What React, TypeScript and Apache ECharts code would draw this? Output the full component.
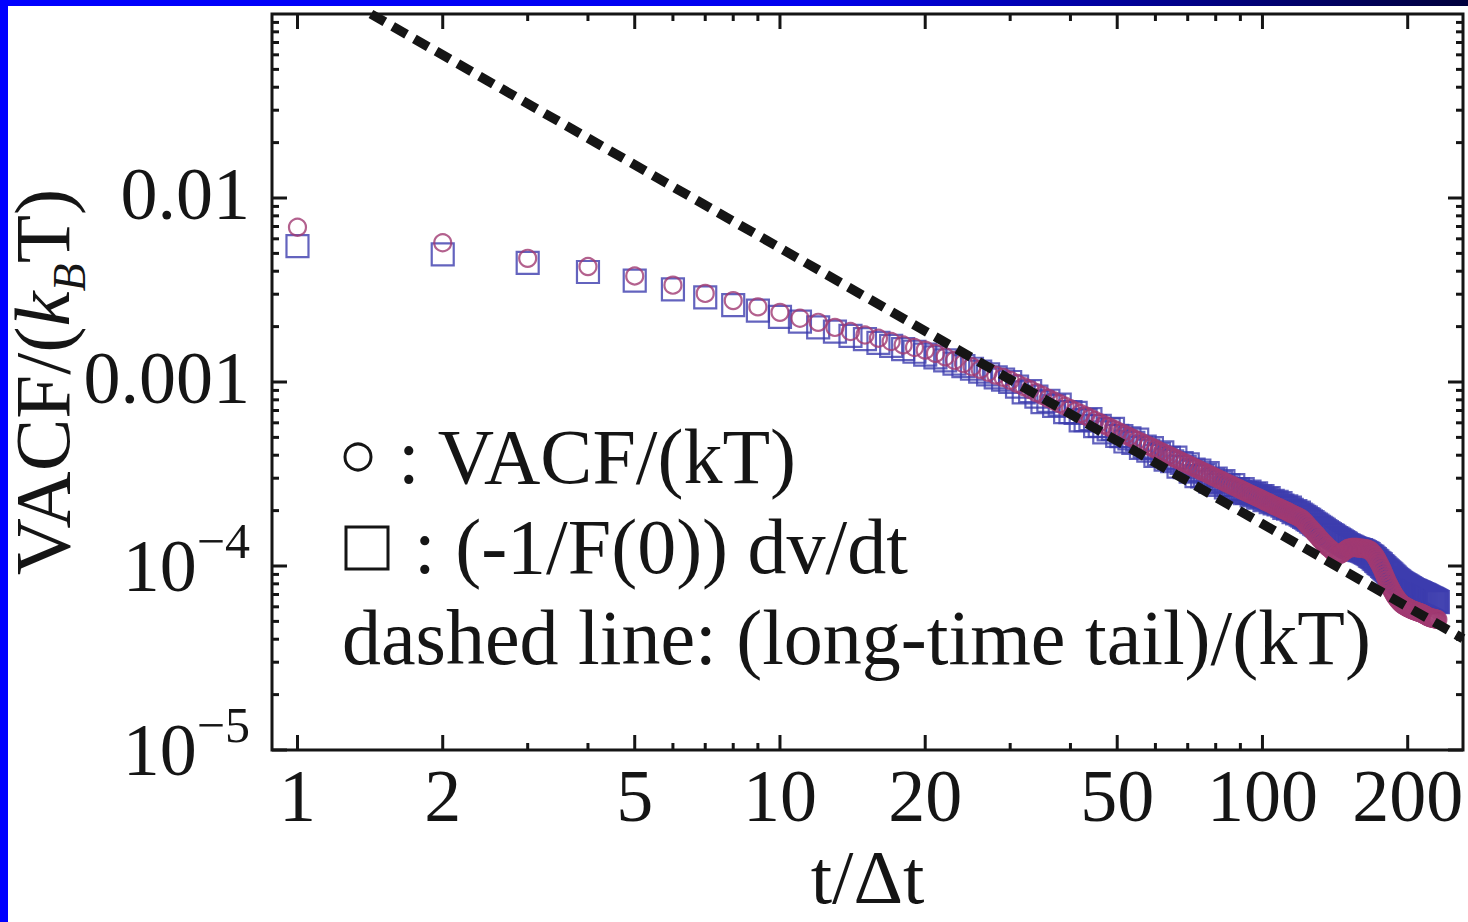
import React, { useEffect, useRef } from "react";
import * as echarts from "echarts";

// time steps t/Δt
const T_STEPS = [
  1, 2, 3, 4, 5, 6, 7, 8, 9, 10, 11, 12, 13, 14, 15, 16, 17, 18, 19, 20,
  21, 22, 23, 24, 25, 26, 27, 28, 29, 30, 31, 32, 33, 34, 35, 36, 37, 38, 39, 40,
  41, 42, 43, 44, 45, 46, 47, 48, 49, 50, 51, 52, 53, 54, 55, 56, 57, 58, 59, 60,
  61, 62, 63, 64, 65, 66, 67, 68, 69, 70, 71, 72, 73, 74, 75, 76, 77, 78, 79, 80,
  81, 82, 83, 84, 85, 86, 87, 88, 89, 90, 91, 92, 93, 94, 95, 96, 97, 98, 99, 100,
  101, 102, 103, 104, 105, 106, 107, 108, 109, 110, 111, 112, 113, 114, 115, 116, 117, 118, 119, 120,
  121, 122, 123, 124, 125, 126, 127, 128, 129, 130, 131, 132, 133, 134, 135, 136, 137, 138, 139, 140,
  141, 142, 143, 144, 145, 146, 147, 148, 149, 150, 151, 152, 153, 154, 155, 156, 157, 158, 159, 160,
  161, 162, 163, 164, 165, 166, 167, 168, 169, 170, 171, 172, 173, 174, 175, 176, 177, 178, 179, 180,
  181, 182, 183, 184, 185, 186, 187, 188, 189, 190, 191, 192, 193, 194, 195, 196, 197, 198, 199, 200,
  201, 202, 203, 204, 205, 206, 207, 208, 209, 210, 211, 212, 213, 214, 215, 216, 217, 218, 219, 220,
  221, 222, 223, 224, 225, 226, 227, 228, 229, 230, 231,
];

// circles: VACF/(kT)
const VACF = [
  6.94e-3, 5.71e-3, 4.70e-3, 4.24e-3, 3.77e-3, 3.36e-3, 3.03e-3, 2.77e-3, 2.56e-3, 2.39e-3,
  2.22e-3, 2.11e-3, 1.98e-3, 1.88e-3, 1.80e-3, 1.73e-3, 1.66e-3, 1.59e-3, 1.54e-3, 1.49e-3,
  1.43e-3, 1.37e-3, 1.31e-3, 1.26e-3, 1.21e-3, 1.17e-3, 1.13e-3, 1.09e-3, 1.06e-3, 1.02e-3,
  9.82e-4, 9.44e-4, 9.09e-4, 8.76e-4, 8.45e-4, 8.15e-4, 7.88e-4, 7.62e-4, 7.38e-4, 7.15e-4,
  6.94e-4, 6.73e-4, 6.54e-4, 6.35e-4, 6.18e-4, 6.01e-4, 5.85e-4, 5.70e-4, 5.56e-4, 5.42e-4,
  5.29e-4, 5.16e-4, 5.04e-4, 4.92e-4, 4.81e-4, 4.71e-4, 4.60e-4, 4.51e-4, 4.41e-4, 4.32e-4,
  4.23e-4, 4.15e-4, 4.07e-4, 3.99e-4, 3.91e-4, 3.84e-4, 3.77e-4, 3.70e-4, 3.63e-4, 3.57e-4,
  3.50e-4, 3.44e-4, 3.39e-4, 3.33e-4, 3.27e-4, 3.22e-4, 3.17e-4, 3.12e-4, 3.07e-4, 3.02e-4,
  2.97e-4, 2.93e-4, 2.89e-4, 2.84e-4, 2.80e-4, 2.76e-4, 2.72e-4, 2.68e-4, 2.65e-4, 2.61e-4,
  2.57e-4, 2.54e-4, 2.50e-4, 2.47e-4, 2.44e-4, 2.41e-4, 2.38e-4, 2.35e-4, 2.32e-4, 2.29e-4,
  2.26e-4, 2.23e-4, 2.21e-4, 2.18e-4, 2.15e-4, 2.13e-4, 2.10e-4, 2.08e-4, 2.06e-4, 2.03e-4,
  2.01e-4, 1.99e-4, 1.97e-4, 1.94e-4, 1.92e-4, 1.90e-4, 1.88e-4, 1.86e-4, 1.84e-4, 1.82e-4,
  1.79e-4, 1.75e-4, 1.71e-4, 1.67e-4, 1.63e-4, 1.60e-4, 1.56e-4, 1.52e-4, 1.49e-4, 1.46e-4,
  1.42e-4, 1.39e-4, 1.36e-4, 1.33e-4, 1.31e-4, 1.28e-4, 1.26e-4, 1.24e-4, 1.22e-4, 1.20e-4,
  1.18e-4, 1.16e-4, 1.16e-4, 1.15e-4, 1.16e-4, 1.17e-4, 1.19e-4, 1.21e-4, 1.22e-4, 1.24e-4,
  1.25e-4, 1.25e-4, 1.26e-4, 1.26e-4, 1.26e-4, 1.26e-4, 1.26e-4, 1.25e-4, 1.25e-4, 1.25e-4,
  1.25e-4, 1.24e-4, 1.24e-4, 1.24e-4, 1.23e-4, 1.23e-4, 1.22e-4, 1.20e-4, 1.18e-4, 1.16e-4,
  1.14e-4, 1.11e-4, 1.08e-4, 1.05e-4, 1.02e-4, 9.91e-5, 9.59e-5, 9.27e-5, 8.95e-5, 8.65e-5,
  8.38e-5, 8.11e-5, 7.87e-5, 7.66e-5, 7.45e-5, 7.26e-5, 7.08e-5, 6.92e-5, 6.78e-5, 6.65e-5,
  6.53e-5, 6.43e-5, 6.34e-5, 6.25e-5, 6.18e-5, 6.12e-5, 6.07e-5, 6.03e-5, 5.98e-5, 5.94e-5,
  5.90e-5, 5.86e-5, 5.82e-5, 5.78e-5, 5.75e-5, 5.73e-5, 5.70e-5, 5.68e-5, 5.65e-5, 5.62e-5,
  5.60e-5, 5.57e-5, 5.55e-5, 5.52e-5, 5.50e-5, 5.46e-5, 5.42e-5, 5.38e-5, 5.35e-5, 5.31e-5,
  5.28e-5, 5.26e-5, 5.24e-5, 5.21e-5, 5.20e-5, 5.19e-5, 5.18e-5, 5.16e-5, 5.15e-5, 5.13e-5, 5.12e-5,
];

// squares: (-1/F(0)) dv/dt
const DVDT = [
  5.48e-3, 4.94e-3, 4.44e-3, 3.96e-3, 3.56e-3, 3.19e-3, 2.88e-3, 2.62e-3, 2.44e-3, 2.26e-3,
  2.13e-3, 1.98e-3, 1.88e-3, 1.78e-3, 1.71e-3, 1.63e-3, 1.57e-3, 1.51e-3, 1.46e-3, 1.41e-3,
  1.36e-3, 1.31e-3, 1.26e-3, 1.22e-3, 1.18e-3, 1.14e-3, 1.10e-3, 1.06e-3, 1.03e-3, 1.00e-3,
  9.43e-4, 8.78e-4, 8.91e-4, 8.32e-4, 7.77e-4, 7.91e-4, 7.41e-4, 7.54e-4, 6.86e-4, 6.86e-4,
  6.80e-4, 6.19e-4, 6.21e-4, 6.29e-4, 5.75e-4, 5.77e-4, 5.32e-4, 5.53e-4, 5.56e-4, 5.09e-4,
  5.08e-4, 4.75e-4, 4.94e-4, 4.67e-4, 4.86e-4, 4.38e-4, 4.46e-4, 4.24e-4, 4.37e-4, 3.97e-4,
  4.06e-4, 4.15e-4, 3.79e-4, 3.87e-4, 3.71e-4, 3.88e-4, 3.47e-4, 3.63e-4, 3.45e-4, 3.57e-4,
  3.26e-4, 3.34e-4, 3.08e-4, 3.30e-4, 3.07e-4, 3.12e-4, 3.20e-4, 2.87e-4, 2.95e-4, 2.99e-4,
  2.76e-4, 2.84e-4, 2.89e-4, 2.67e-4, 2.74e-4, 2.62e-4, 2.75e-4, 2.57e-4, 2.62e-4, 2.53e-4,
  2.62e-4, 2.49e-4, 2.50e-4, 2.54e-4, 2.42e-4, 2.46e-4, 2.48e-4, 2.35e-4, 2.39e-4, 2.40e-4,
  2.28e-4, 2.32e-4, 2.34e-4, 2.22e-4, 2.26e-4, 2.19e-4, 2.23e-4, 2.16e-4, 2.20e-4, 2.13e-4,
  2.07e-4, 2.11e-4, 2.05e-4, 2.08e-4, 2.02e-4, 1.96e-4, 1.99e-4, 1.93e-4, 1.95e-4, 1.90e-4,
  1.88e-4, 1.85e-4, 1.83e-4, 1.80e-4, 1.78e-4, 1.75e-4, 1.73e-4, 1.70e-4, 1.68e-4, 1.66e-4,
  1.63e-4, 1.61e-4, 1.59e-4, 1.57e-4, 1.55e-4, 1.53e-4, 1.51e-4, 1.49e-4, 1.47e-4, 1.46e-4,
  1.44e-4, 1.42e-4, 1.41e-4, 1.39e-4, 1.38e-4, 1.36e-4, 1.35e-4, 1.33e-4, 1.32e-4, 1.30e-4,
  1.29e-4, 1.28e-4, 1.27e-4, 1.26e-4, 1.25e-4, 1.24e-4, 1.23e-4, 1.23e-4, 1.22e-4, 1.22e-4,
  1.21e-4, 1.20e-4, 1.19e-4, 1.18e-4, 1.17e-4, 1.16e-4, 1.14e-4, 1.13e-4, 1.12e-4, 1.10e-4,
  1.09e-4, 1.07e-4, 1.06e-4, 1.04e-4, 1.03e-4, 1.02e-4, 1.00e-4, 9.88e-5, 9.74e-5, 9.60e-5,
  9.48e-5, 9.36e-5, 9.24e-5, 9.12e-5, 9.00e-5, 8.88e-5, 8.76e-5, 8.64e-5, 8.52e-5, 8.40e-5,
  8.32e-5, 8.24e-5, 8.16e-5, 8.08e-5, 8.00e-5, 7.94e-5, 7.88e-5, 7.82e-5, 7.76e-5, 7.70e-5,
  7.64e-5, 7.58e-5, 7.52e-5, 7.46e-5, 7.40e-5, 7.36e-5, 7.32e-5, 7.28e-5, 7.24e-5, 7.20e-5,
  7.16e-5, 7.12e-5, 7.08e-5, 7.04e-5, 7.00e-5, 6.96e-5, 6.92e-5, 6.88e-5, 6.84e-5, 6.80e-5,
  6.76e-5, 6.72e-5, 6.68e-5, 6.64e-5, 6.60e-5, 6.56e-5, 6.52e-5, 6.48e-5, 6.44e-5, 6.40e-5, 6.36e-5,
];

// dashed long-time tail: two end points (straight in log-log)
const TAIL_T = [1.42, 260.4];
const TAIL_V = [0.1, 4.03e-5];

const X_LABELS = [1, 2, 5, 10, 20, 50, 100, 200];
const X_MAJOR = [1, 2, 5, 10, 20, 50, 100, 200];
const X_MINOR = [3, 4, 6, 7, 8, 9, 30, 40, 60, 70, 80, 90];
const Y_MAJOR = [1e-5, 1e-4, 1e-3, 1e-2];
const Y_MINOR = [
  2e-5, 3e-5, 4e-5, 5e-5, 6e-5, 7e-5, 8e-5, 9e-5,
  2e-4, 3e-4, 4e-4, 5e-4, 6e-4, 7e-4, 8e-4, 9e-4,
  2e-3, 3e-3, 4e-3, 5e-3, 6e-3, 7e-3, 8e-3, 9e-3,
  2e-2, 3e-2, 4e-2, 5e-2, 6e-2, 7e-2, 8e-2, 9e-2,
];

const X_MIN = 0.8855;
const X_MAX = 260.4;
const Y_MIN = 1e-5;
const Y_MAX = 0.1;

const FONT = '"Liberation Serif", "Times New Roman", serif';
const INK = "#151515";
const PURPLE = "#a03a72";
const BLUE = "#3c3cae";

export default function App() {
  const ref = useRef<HTMLDivElement | null>(null);

  useEffect(() => {
    if (!ref.current) return;
    const chart = echarts.init(ref.current, undefined, { renderer: "svg" });

    const xTickData = [
      ...X_MAJOR.map((v) => [v, Y_MIN, 1]),
      ...X_MINOR.map((v) => [v, Y_MIN, 0]),
    ];
    const yTickData = [
      ...Y_MAJOR.map((v) => [X_MIN, v, 1]),
      ...Y_MINOR.map((v) => [X_MIN, v, 0]),
    ];

    const legendText = (x: number, y: number, text: string) => ({
      type: "text",
      x,
      y,
      style: {
        text,
        fontSize: 78,
        fontFamily: FONT,
        fill: INK,
        align: "left",
        verticalAlign: "middle",
      },
      z: 50,
    });

    const option: any = {
      animation: false,
      backgroundColor: "#ffffff",
      graphic: [
        {
          type: "rect",
          shape: { x: 0, y: 0, width: 1468, height: 6 },
          style: {
            fill: new echarts.graphic.LinearGradient(0, 0, 1, 0, [
              { offset: 0, color: "#0000ff" },
              { offset: 0.55, color: "#0000ee" },
              { offset: 1, color: "#00003c" },
            ]),
          },
          z: 100,
        },
        {
          type: "rect",
          shape: { x: 0, y: 0, width: 8, height: 922 },
          style: { fill: "#0000ff" },
          z: 100,
        },
        {
          type: "circle",
          shape: { cx: 358, cy: 457, r: 13 },
          style: { fill: "none", stroke: INK, lineWidth: 3 },
          z: 50,
        },
        legendText(398, 456, ": VACF/(kT)"),
        {
          type: "rect",
          shape: { x: 346, y: 527, width: 42, height: 42 },
          style: { fill: "none", stroke: INK, lineWidth: 3 },
          z: 50,
        },
        legendText(414, 546, ": (-1/F(0)) dv/dt"),
        legendText(342, 637, "dashed line: (long-time tail)/(kT)"),
      ],
      grid: {
        left: 272,
        top: 14,
        right: 5,
        bottom: 172,
        show: true,
        borderColor: INK,
        borderWidth: 3,
        backgroundColor: "#ffffff",
        containLabel: false,
        outerBoundsMode: "none",
      },
      xAxis: {
        type: "log",
        logBase: 10,
        min: X_MIN,
        max: X_MAX,
        axisLine: { show: false },
        axisTick: { show: false },
        axisLabel: { show: false },
        splitLine: { show: false },
        minorTick: { show: false },
        name: "t/Δt",
        nameLocation: "middle",
        nameGap: 92,
        nameMoveOverlap: false,
        nameTextStyle: { fontFamily: FONT, fontSize: 77, color: INK, lineHeight: 70 },
      },
      yAxis: {
        type: "log",
        logBase: 10,
        min: Y_MIN,
        max: Y_MAX,
        axisLine: { show: false },
        axisTick: { show: false },
        splitLine: { show: false },
        minorTick: { show: false },
        axisLabel: {
          show: true,
          margin: 22,
          fontFamily: FONT,
          fontSize: 74,
          color: INK,
          showMinLabel: true,
          showMaxLabel: false,
          formatter: (v: number) => {
            const e = Math.round(Math.log10(v));
            if (e === -1) return "";
            if (e === -2) return "{p|0.01}";
            if (e === -3) return "{p|0.001}";
            return `{b|10}{s|−${-e}}`;
          },
          rich: {
            p: { fontFamily: FONT, fontSize: 74, color: INK, padding: [0, 0, 8, 0] },
            b: { fontFamily: FONT, fontSize: 74, color: INK, lineHeight: 100 },
            s: {
              fontFamily: FONT,
              fontSize: 50,
              color: INK,
              lineHeight: 50,
              verticalAlign: "top",
            },
          },
        },
        name: "{n|VACF/(}{i|k}{sub|B}{n|T)}",
        nameLocation: "middle",
        nameRotate: 90,
        nameGap: 180,
        nameMoveOverlap: false,
        nameTextStyle: {
          fontFamily: FONT,
          fontSize: 79,
          color: INK,
          rich: {
            n: { fontFamily: FONT, fontSize: 79, color: INK, lineHeight: 100 },
            i: {
              fontFamily: FONT,
              fontSize: 79,
              fontStyle: "italic",
              color: INK,
              lineHeight: 100,
            },
            sub: {
              fontFamily: FONT,
              fontSize: 46,
              fontStyle: "italic",
              color: INK,
              lineHeight: 46,
              verticalAlign: "bottom",
            },
          },
        },
      },
      series: [
        {
          name: "(-1/F(0)) dv/dt",
          type: "scatter",
          data: T_STEPS.map((t, i) => [t, DVDT[i]]),
          symbol: "rect",
          symbolSize: 22,
          itemStyle: { color: "rgba(0,0,0,0)", borderColor: BLUE, borderWidth: 2.2 },
          silent: true,
          z: 2,
        },
        {
          name: "VACF/(kT)",
          type: "scatter",
          data: T_STEPS.map((t, i) => [t, VACF[i]]),
          symbol: "circle",
          symbolSize: 17,
          itemStyle: { color: "rgba(0,0,0,0)", borderColor: PURPLE, borderWidth: 2.2 },
          silent: true,
          z: 3,
        },
        {
          name: "long-time tail",
          type: "line",
          data: TAIL_T.map((t, i) => [t, TAIL_V[i]]),
          symbol: "none",
          showSymbol: false,
          lineStyle: { color: INK, width: 9.5, type: [16, 9], cap: "butt" },
          silent: true,
          z: 4,
        },
        {
          type: "custom",
          silent: true,
          clip: false,
          z: 6,
          data: xTickData,
          encode: { x: 0, y: 1 },
          renderItem: (_p: any, api: any) => {
            const v = api.value(0);
            const b = api.coord([v, Y_MIN]);
            const t = api.coord([v, Y_MAX]);
            const len = api.value(2) ? 15 : 7;
            return {
              type: "group",
              children: [
                {
                  type: "line",
                  shape: { x1: b[0], y1: b[1], x2: b[0], y2: b[1] - len },
                  style: { stroke: INK, lineWidth: 3 },
                },
                {
                  type: "line",
                  shape: { x1: t[0], y1: t[1], x2: t[0], y2: t[1] + len },
                  style: { stroke: INK, lineWidth: 3 },
                },
              ],
            };
          },
        },
        {
          type: "custom",
          silent: true,
          clip: false,
          z: 6,
          data: yTickData,
          encode: { x: 0, y: 1 },
          renderItem: (_p: any, api: any) => {
            const v = api.value(1);
            const l = api.coord([X_MIN, v]);
            const r = api.coord([X_MAX, v]);
            const len = api.value(2) ? 15 : 7;
            return {
              type: "group",
              children: [
                {
                  type: "line",
                  shape: { x1: l[0], y1: l[1], x2: l[0] + len, y2: l[1] },
                  style: { stroke: INK, lineWidth: 3 },
                },
                {
                  type: "line",
                  shape: { x1: r[0], y1: r[1], x2: r[0] - len, y2: r[1] },
                  style: { stroke: INK, lineWidth: 3 },
                },
              ],
            };
          },
        },
        {
          type: "custom",
          silent: true,
          clip: false,
          z: 6,
          data: X_LABELS.map((v) => [v, Y_MIN]),
          encode: { x: 0, y: 1 },
          renderItem: (p: any, api: any) => {
            const v = api.value(0);
            const pt = api.coord([v, Y_MIN]);
            return {
              type: "text",
              x: pt[0],
              y: pt[1] + 46,
              style: {
                text: String(X_LABELS[p.dataIndex]),
                fontFamily: FONT,
                fontSize: 74,
                fill: INK,
                align: "center",
                verticalAlign: "middle",
              },
            };
          },
        },
      ],
    };

    chart.setOption(option);
    return () => {
      chart.dispose();
    };
  }, []);

  return (
    <div
      ref={ref}
      style={{
        position: "fixed",
        left: 0,
        top: 0,
        width: 1468,
        height: 922,
        background: "#ffffff",
      }}
    />
  );
}
